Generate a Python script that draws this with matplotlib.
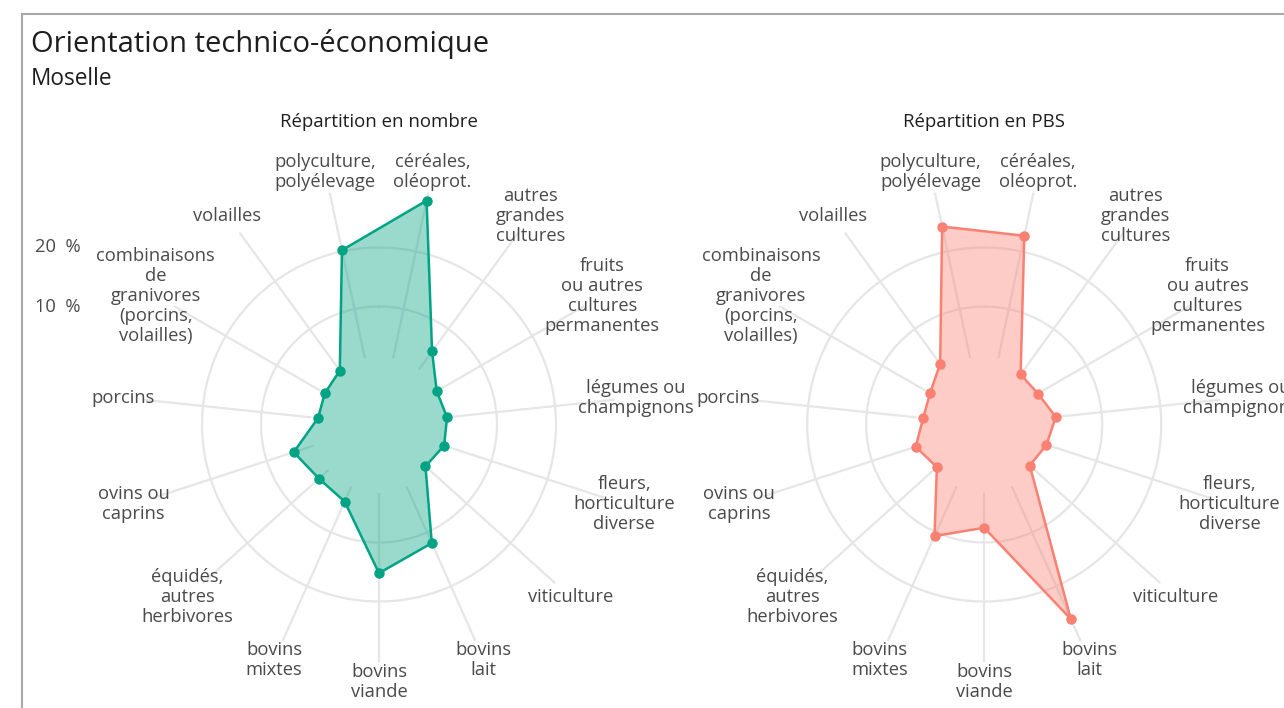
import matplotlib
matplotlib.use("Agg")
import matplotlib.pyplot as plt
import matplotlib.patches as patches
import numpy as np

plt.rcParams['font.family'] = ['Open Sans', 'DejaVu Sans']

# categories, clockwise starting from "céréales"
categories = [
    "céréales,\noléoprot.",
    "autres\ngrandes\ncultures",
    "fruits\nou autres\ncultures\npermanentes",
    "légumes ou\nchampignons",
    "fleurs,\nhorticulture\ndiverse",
    "viticulture",
    "bovins\nlait",
    "bovins\nviande",
    "bovins\nmixtes",
    "équidés,\nautres\nherbivores",
    "ovins ou\ncaprins",
    "porcins",
    "combinaisons\nde\ngranivores\n(porcins,\nvolailles)",
    "volailles",
    "polyculture,\npolyélevage",
]

# shares in %
nombre = [28.8, 5.3, 1.3, 1.6, 1.6, 0.6, 12.0, 15.2, 4.3, 3.7, 5.2, 0.4, 0.6, 1.3, 20.2]
pbs = [22.7, 0.5, 0.5, 2.2, 1.1, 0.4, 26.1, 7.5, 10.7, 0.8, 2.2, 0.4, 0.6, 2.7, 24.3]

radial_ticks = [10, 20]
panel_titles = ["Répartition en nombre", "Répartition en PBS"]
colors = ["#00a383", "#fa8072"]

W, H = 1284, 708
fig = plt.figure(figsize=(W / 100, H / 100), dpi=100)

# outer frame
fig.patches.append(patches.Rectangle((22 / W, -0.2), 1.2, 1.2 - 14 / H,
                                     transform=fig.transFigure, fill=False,
                                     ec="#a8a8a8", lw=1.5))

fig.text(31 / W, 1 - 44 / H, "Orientation technico-économique", fontsize=21,
         color="#1e1e1e", va="center", ha="left")
fig.text(31 / W, 1 - 79 / H, "Moselle", fontsize=16.3, color="#1e1e1e",
         va="center", ha="left")

n = len(categories)
theta = np.deg2rad(12 + 24 * np.arange(n))
circle_t = np.linspace(0, 2 * np.pi, 300)

rad = 236
centers_x = [379, 984.2]
center_y = 424.5

for k, (vals, col, ttl) in enumerate(zip([nombre, pbs], colors, panel_titles)):
    cx = centers_x[k]
    ax = fig.add_axes([(cx - rad) / W, (H - center_y - rad) / H, 2 * rad / W, 2 * rad / H],
                      projection="polar")
    ax.set_theta_zero_location("N")
    ax.set_theta_direction(-1)
    ax.set_ylim(0, 30)
    ax.set_rorigin(-10)
    ax.set_axis_off()

    for t in radial_ticks:
        ax.plot(circle_t, np.full_like(circle_t, t), color="#e6e6e6", lw=1.6,
                zorder=1, clip_on=False)
    for th in theta:
        ax.plot([th, th], [1.7, 30], color="#e6e6e6", lw=1.6, zorder=1, clip_on=False)

    tt = np.append(theta, theta[0])
    vv = np.append(vals, vals[0])
    ax.fill(tt, vv, color=col, alpha=0.4, lw=0, zorder=2, clip_on=False)
    ax.plot(tt, vv, color=col, lw=1.8, zorder=3, clip_on=False)
    ax.plot(theta, vals, "o", color=col, ms=6.5, zorder=4, clip_on=False)

    for th, lab in zip(theta, categories):
        ax.text(th, 33.7, lab, ha="center", va="center", fontsize=13.2,
                color="#4a4a4a", linespacing=1.14, clip_on=False)

    fig.text(cx / W, 1 - 122 / H, ttl, fontsize=13.4, color="#1e1e1e",
             ha="center", va="center")

    if k == 0:
        for t in radial_ticks:
            _, py = ax.transData.transform((0, t))
            fy = fig.transFigure.inverted().transform((0, py))[1]
            fig.text(81 / W, fy, f"{t}  %", fontsize=13.2, color="#4a4a4a",
                     ha="right", va="center")

fig.savefig("out.png", dpi=100)
